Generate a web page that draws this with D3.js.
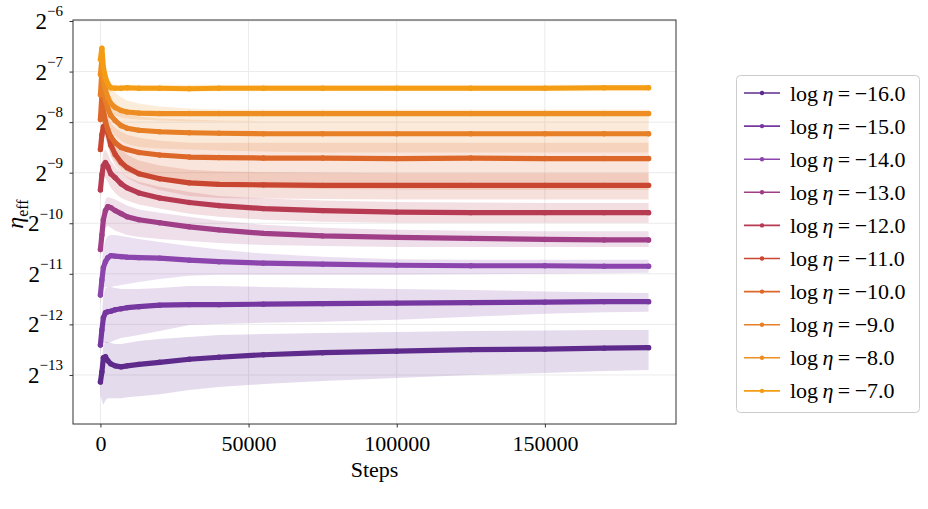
<!DOCTYPE html>
<html>
<head>
<meta charset="utf-8">
<script src="https://cdn.jsdelivr.net/npm/d3@7"></script>
<style>
  body { margin: 0; background: #fff; }
  svg { display: block; }
  svg text { font-family: "Times New Roman", "Liberation Serif", Times, serif; fill: #000; }
</style>
</head>
<body>
<div id="container"><svg></svg></div>
<script>
let width = 928;
let height = 509;
let fontFamily = '"Times New Roman", "Liberation Serif", Times, serif';

// steps sampled along every run
const steps = [0, 500, 1000, 1700, 2500, 3500, 5000, 7000, 9000, 13000, 20000, 30000, 40000, 55000, 75000, 100000, 125000, 150000, 170000, 185000];

// log2(eta_eff): mean, upper and lower edge of the shaded band
const m16 = [-13.14, -12.94, -12.66, -12.64, -12.72, -12.78, -12.82, -12.84, -12.82, -12.79, -12.75, -12.69, -12.65, -12.60, -12.56, -12.53, -12.50, -12.49, -12.47, -12.46];
const hi16 = [-13.00, -12.70, -12.41, -12.35, -12.35, -12.37, -12.39, -12.39, -12.37, -12.33, -12.29, -12.25, -12.21, -12.19, -12.17, -12.15, -12.13, -12.12, -12.11, -12.11];
const lo16 = [-13.40, -13.50, -13.59, -13.50, -13.46, -13.46, -13.46, -13.46, -13.44, -13.42, -13.38, -13.30, -13.24, -13.18, -13.12, -13.06, -13.00, -12.96, -12.92, -12.90];

const m15 = [-12.41, -12.11, -11.87, -11.77, -11.75, -11.74, -11.71, -11.69, -11.67, -11.65, -11.62, -11.61, -11.61, -11.60, -11.59, -11.58, -11.57, -11.56, -11.55, -11.55];
const hi15 = [-12.21, -11.81, -11.42, -11.28, -11.26, -11.26, -11.28, -11.30, -11.30, -11.30, -11.28, -11.24, -11.24, -11.26, -11.28, -11.30, -11.32, -11.35, -11.37, -11.38];
const lo15 = [-12.60, -12.41, -12.37, -12.37, -12.37, -12.35, -12.31, -12.27, -12.25, -12.21, -12.13, -12.01, -11.99, -11.97, -11.95, -11.91, -11.85, -11.79, -11.76, -11.75];

const m14 = [-11.42, -11.12, -10.88, -10.76, -10.68, -10.64, -10.65, -10.66, -10.67, -10.68, -10.69, -10.73, -10.76, -10.79, -10.81, -10.83, -10.84, -10.84, -10.85, -10.85];
const hi14 = [-11.22, -10.82, -10.49, -10.33, -10.25, -10.23, -10.23, -10.25, -10.27, -10.31, -10.37, -10.45, -10.52, -10.60, -10.66, -10.71, -10.72, -10.72, -10.72, -10.72];
const lo14 = [-11.61, -11.42, -11.28, -11.26, -11.26, -11.26, -11.24, -11.22, -11.20, -11.16, -11.10, -11.04, -11.02, -11.02, -11.02, -11.02, -11.01, -11.00, -10.99, -10.98];

const m13 = [-10.52, -10.23, -9.93, -9.75, -9.67, -9.69, -9.75, -9.81, -9.87, -9.93, -9.99, -10.07, -10.13, -10.20, -10.25, -10.28, -10.30, -10.32, -10.33, -10.33];
const hi13 = [-10.43, -10.03, -9.73, -9.53, -9.48, -9.50, -9.53, -9.59, -9.65, -9.73, -9.79, -9.87, -9.95, -10.03, -10.09, -10.13, -10.15, -10.16, -10.16, -10.16];
const lo13 = [-10.72, -10.49, -10.23, -10.09, -10.05, -10.09, -10.15, -10.19, -10.23, -10.27, -10.31, -10.35, -10.39, -10.43, -10.45, -10.47, -10.47, -10.47, -10.47, -10.47];

const m12 = [-9.34, -9.04, -8.86, -8.80, -8.88, -9.02, -9.10, -9.22, -9.30, -9.40, -9.50, -9.59, -9.65, -9.71, -9.75, -9.78, -9.79, -9.79, -9.79, -9.79];
const hi12 = [-9.14, -8.80, -8.60, -8.54, -8.62, -8.76, -8.88, -9.00, -9.08, -9.18, -9.28, -9.38, -9.46, -9.51, -9.55, -9.58, -9.59, -9.60, -9.60, -9.60];
const lo12 = [-9.53, -9.30, -9.14, -9.10, -9.18, -9.30, -9.40, -9.50, -9.55, -9.63, -9.71, -9.81, -9.87, -9.93, -9.97, -9.99, -9.99, -9.99, -9.99, -9.99];

const m11 = [-8.54, -8.25, -8.09, -8.05, -8.21, -8.45, -8.64, -8.80, -8.90, -9.02, -9.12, -9.20, -9.23, -9.24, -9.25, -9.25, -9.25, -9.25, -9.25, -9.25];
const hi11 = [-8.35, -8.05, -7.89, -7.85, -7.99, -8.21, -8.39, -8.54, -8.64, -8.76, -8.86, -8.94, -8.97, -8.99, -9.00, -9.01, -9.01, -9.01, -9.01, -9.01];
const lo11 = [-8.74, -8.45, -8.31, -8.29, -8.45, -8.68, -8.86, -9.00, -9.10, -9.22, -9.34, -9.46, -9.50, -9.51, -9.52, -9.53, -9.53, -9.53, -9.53, -9.53];

const m10 = [-7.95, -7.46, -7.75, -7.99, -8.15, -8.29, -8.41, -8.50, -8.54, -8.60, -8.65, -8.69, -8.70, -8.71, -8.71, -8.72, -8.71, -8.72, -8.72, -8.72];
const hi10 = [-7.79, -7.30, -7.55, -7.75, -7.89, -8.01, -8.11, -8.19, -8.25, -8.31, -8.37, -8.41, -8.41, -8.41, -8.41, -8.41, -8.41, -8.41, -8.41, -8.41];
const lo10 = [-8.15, -7.71, -8.05, -8.31, -8.49, -8.64, -8.78, -8.90, -8.98, -9.08, -9.16, -9.24, -9.28, -9.30, -9.32, -9.33, -9.34, -9.34, -9.34, -9.34];

const m9 = [-7.46, -7.00, -7.36, -7.57, -7.73, -7.87, -7.97, -8.07, -8.12, -8.16, -8.19, -8.21, -8.22, -8.23, -8.23, -8.23, -8.23, -8.23, -8.23, -8.23];
const hi9 = [-7.32, -6.86, -7.16, -7.36, -7.50, -7.61, -7.71, -7.79, -7.85, -7.89, -7.93, -7.95, -7.97, -7.98, -7.98, -7.98, -7.98, -7.98, -7.98, -7.98];
const lo9 = [-7.59, -7.16, -7.59, -7.85, -8.01, -8.15, -8.27, -8.37, -8.43, -8.49, -8.52, -8.54, -8.56, -8.58, -8.60, -8.60, -8.60, -8.60, -8.60, -8.60];

const m8 = [-7.06, -6.76, -7.16, -7.36, -7.51, -7.63, -7.71, -7.77, -7.80, -7.82, -7.83, -7.83, -7.83, -7.83, -7.83, -7.83, -7.83, -7.83, -7.83, -7.83];
const hi8 = [-6.92, -6.60, -6.92, -7.08, -7.20, -7.32, -7.42, -7.51, -7.57, -7.63, -7.69, -7.73, -7.75, -7.75, -7.75, -7.75, -7.75, -7.75, -7.75, -7.75];
const lo8 = [-7.20, -6.92, -7.40, -7.59, -7.71, -7.81, -7.87, -7.91, -7.93, -7.95, -7.97, -7.98, -7.98, -7.98, -7.98, -7.98, -7.98, -7.98, -7.98, -7.98];

const m7 = [-6.76, -6.54, -6.92, -7.12, -7.24, -7.32, -7.33, -7.33, -7.32, -7.33, -7.33, -7.34, -7.33, -7.33, -7.33, -7.33, -7.33, -7.33, -7.32, -7.32];
const hi7 = [-6.60, -6.41, -6.76, -7.00, -7.16, -7.25, -7.26, -7.26, -7.26, -7.26, -7.26, -7.26, -7.26, -7.26, -7.26, -7.26, -7.26, -7.26, -7.26, -7.26];
const lo7 = [-6.92, -6.68, -7.08, -7.24, -7.36, -7.40, -7.39, -7.39, -7.39, -7.39, -7.39, -7.39, -7.39, -7.39, -7.39, -7.39, -7.39, -7.39, -7.39, -7.39];

const lrs = [-16, -15, -14, -13, -12, -11, -10, -9, -8, -7];
const colors = ['#5e2b8c', '#7638a0', '#8b45ad', '#a03f88', '#b63b52', '#c94630', '#dc6728', '#e67f26', '#ee8e22', '#f39c14'];
const xTicks = [0, 50000, 100000, 150000];
const yTicks = [-13, -12, -11, -10, -9, -8, -7, -6];

const series = [
    [m16, lo16, hi16], [m15, lo15, hi15], [m14, lo14, hi14], [m13, lo13, hi13], [m12, lo12, hi12],
    [m11, lo11, hi11], [m10, lo10, hi10], [m9, lo9, hi9], [m8, lo8, hi8], [m7, lo7, hi7]
];

function draw_main() {
    let padding = { left: 73, right: width - 676, top: 20, bottom: height - 424 };
    let svg = d3.select('#container').select('svg')
        .attr('width', width)
        .attr('height', height)
        .style('font-family', fontFamily);

    let x = d3.scaleLinear()
        .domain([-9250, 194250])
        .range([padding.left, width - padding.right]);
    let y = d3.scaleLog().base(2)
        .domain([Math.pow(2, -13.97), Math.pow(2, -5.98)])
        .range([height - padding.bottom, padding.top]);

    // grid
    let grid = svg.append('g');
    grid.selectAll('.gx').data(xTicks).enter().append('line')
        .attr('x1', d => x(d)).attr('x2', d => x(d))
        .attr('y1', padding.top).attr('y2', height - padding.bottom)
        .attr('stroke', '#ebebeb').attr('stroke-width', 1);
    grid.selectAll('.gy').data(yTicks).enter().append('line')
        .attr('x1', padding.left).attr('x2', width - padding.right)
        .attr('y1', d => y(Math.pow(2, d))).attr('y2', d => y(Math.pow(2, d)))
        .attr('stroke', '#ebebeb').attr('stroke-width', 1);

    svg.append('clipPath').attr('id', 'plotclip').append('rect')
        .attr('x', padding.left).attr('y', padding.top)
        .attr('width', width - padding.left - padding.right)
        .attr('height', height - padding.top - padding.bottom);

    let plot = svg.append('g').attr('clip-path', 'url(#plotclip)');

    // shaded bands
    let area = d3.area()
        .x((d, i) => x(steps[i]))
        .y0(d => y(Math.pow(2, d[0])))
        .y1(d => y(Math.pow(2, d[1])));
    series.forEach((s, k) => {
        let pts = steps.map((st, i) => [s[1][i], s[2][i]]);
        plot.append('path')
            .attr('d', area(pts))
            .attr('fill', colors[k])
            .attr('fill-opacity', 0.17);
    });

    // mean lines with markers
    let line = d3.line()
        .x((d, i) => x(steps[i]))
        .y(d => y(Math.pow(2, d)));
    series.forEach((s, k) => {
        plot.append('path')
            .attr('d', line(s[0]))
            .attr('fill', 'none')
            .attr('stroke', colors[k])
            .attr('stroke-width', 5.2)
            .attr('stroke-linejoin', 'round')
            .attr('stroke-linecap', 'round');
        plot.append('g').selectAll('circle')
            .data(s[0]).enter().append('circle')
            .attr('cx', (d, i) => x(steps[i]))
            .attr('cy', d => y(Math.pow(2, d)))
            .attr('r', 2.7)
            .attr('fill', colors[k]);
    });

    // axes
    let axis_x = d3.axisBottom(x).tickValues(xTicks).tickSize(3.5).tickFormat(d => d);
    let xxs = svg.append('g')
        .attr('transform', `translate(0, ${height - padding.bottom})`)
        .call(axis_x)
        .attr('font-family', fontFamily);
    xxs.select('.domain').remove();
    xxs.selectAll('line').attr('stroke', '#333');
    xxs.selectAll('text')
        .style('font-family', fontFamily)
        .attr('font-size', '22px')
        .attr('dy', '0.93em');

    let axis_y = d3.axisLeft(y).tickValues(yTicks.map(d => Math.pow(2, d))).tickSize(3.5).tickFormat('');
    let yys = svg.append('g')
        .attr('transform', `translate(${padding.left}, 0)`)
        .call(axis_y);
    yys.select('.domain').remove();
    yys.selectAll('line').attr('stroke', '#333');

    let ylab = svg.append('g');
    yTicks.forEach(t => {
        let tx = ylab.append('text')
            .attr('x', padding.left - 10)
            .attr('y', y(Math.pow(2, t)) + 8)
            .attr('text-anchor', 'end')
            .style('font-family', fontFamily)
            .attr('font-size', '23px');
        tx.append('tspan').text('2');
        tx.append('tspan').attr('font-size', '15px').attr('dy', '-0.85em')
            .text('\u2212' + Math.abs(t));
    });

    // frame
    svg.append('rect')
        .attr('x', padding.left).attr('y', padding.top)
        .attr('width', width - padding.left - padding.right)
        .attr('height', height - padding.top - padding.bottom)
        .attr('fill', 'none').attr('stroke', '#333').attr('stroke-width', 1);

    // axis labels
    svg.append('text')
        .attr('x', (padding.left + width - padding.right) / 2)
        .attr('y', 477)
        .attr('text-anchor', 'middle')
        .style('font-family', fontFamily)
        .attr('font-size', '22px')
        .text('Steps');

    let yl = svg.append('text')
        .attr('transform', `translate(23, 214) rotate(-90)`)
        .attr('text-anchor', 'middle')
        .style('font-family', fontFamily)
        .attr('font-size', '24px');
    yl.append('tspan').attr('font-style', 'italic').text('\u03b7');
    yl.append('tspan').attr('font-size', '16px').attr('dy', '0.3em').text('eff');

    // legend
    let lg = svg.append('g');
    lg.append('rect')
        .attr('x', 736.5).attr('y', 75.5)
        .attr('width', 183).attr('height', 337)
        .attr('rx', 4)
        .attr('fill', '#fff').attr('stroke', '#cccccc').attr('stroke-width', 1);
    lrs.forEach((lr, k) => {
        let cy = 93 + k * 33.1;
        lg.append('line')
            .attr('x1', 744).attr('x2', 780)
            .attr('y1', cy).attr('y2', cy)
            .attr('stroke', colors[k]).attr('stroke-width', 1.6);
        lg.append('circle')
            .attr('cx', 762).attr('cy', cy).attr('r', 2.2)
            .attr('fill', colors[k]);
        let t = lg.append('text')
            .attr('x', 790).attr('y', cy + 7.5)
            .style('font-family', fontFamily)
            .attr('font-size', '22px');
        t.append('tspan').text('log\u2009');
        t.append('tspan').attr('font-style', 'italic').text('\u03b7');
        t.append('tspan').text('\u2009=\u2009\u2212' + Math.abs(lr).toFixed(1));
    });
}

function main() {
    draw_main();
}

main()
</script>
</body>
</html>
